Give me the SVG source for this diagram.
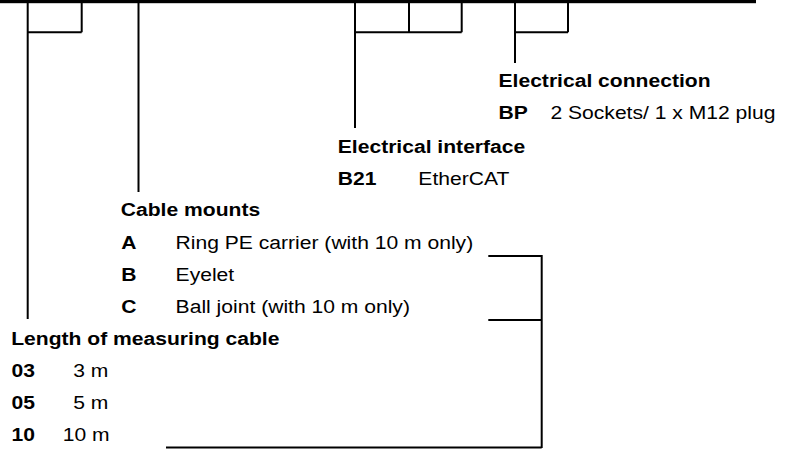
<svg xmlns="http://www.w3.org/2000/svg" width="785" height="449" viewBox="0 0 785 449">
<style>
.ln{stroke:#000;stroke-width:2;fill:none;stroke-linecap:butt}
text{font-family:"Liberation Sans",Arial,Helvetica,sans-serif;font-size:19px;fill:#000}
.b{font-weight:bold}
</style>
<rect x="0" y="0" width="756" height="3.2" fill="#000"/>
<g id="connectors">
<path class="ln" d="M27.7,3V319 M81.7,3V32.3 M27.7,32.3H81.7"/>
<path class="ln" d="M138.5,3V192"/>
<path class="ln" d="M355,3V128 M409,3V32.3 M461.7,3V32.3 M355,32.3H461.7"/>
<path class="ln" d="M515,3V63 M568,3V32.3 M515,32.3H568"/>
<path class="ln" d="M488.3,256H541.7V448 M488.3,320H541.7 M166,447.5H541.7"/>
</g>
<g transform="scale(1.11 1)">
<g id="electrical-connection">
<text class="b" x="449.1" y="87">Electrical connection</text>
<text class="b" x="449.1" y="119.5">BP</text>
<text x="495.9" y="119.5">2 Sockets/ 1 x M12 plug</text>
</g>
<g id="electrical-interface">
<text class="b" x="304.3" y="153">Electrical interface</text>
<text class="b" x="304.3" y="185.5">B21</text>
<text x="376.9" y="185.5">EtherCAT</text>
</g>
<g id="cable-mounts">
<text class="b" x="108.8" y="216.5">Cable mounts</text>
<text class="b" x="109.2" y="249">A</text>
<text x="158.2" y="249">Ring PE carrier (with 10 m only)</text>
<text class="b" x="109.2" y="281">B</text>
<text x="158.2" y="281">Eyelet</text>
<text class="b" x="109.2" y="313">C</text>
<text x="158.2" y="313">Ball joint (with 10 m only)</text>
</g>
<g id="cable-length">
<text class="b" x="10.1" y="345.5">Length of measuring cable</text>
<text class="b" x="10.4" y="377.5">03</text>
<text x="66" y="377.5">3 m</text>
<text class="b" x="10.4" y="409.5">05</text>
<text x="66" y="409.5">5 m</text>
<text class="b" x="10.4" y="441.5">10</text>
<text x="56.5" y="441.5">10 m</text>
</g>
</g>
</svg>
